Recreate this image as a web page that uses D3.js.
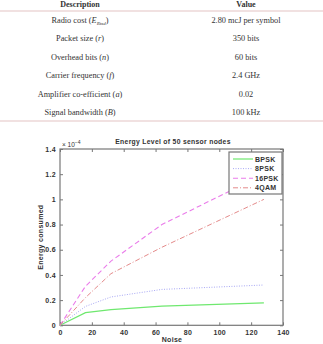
<!DOCTYPE html>
<html>
<head>
<meta charset="utf-8">
<script src="https://cdn.jsdelivr.net/npm/d3@7"></script>
<style>
  body { margin: 0; background: #fff; }
  svg { display: block; }
</style>
</head>
<body>
<div id="chart"></div>
<script>
// ── Table rows ───────────────────────────────────────────────
const tableHeader = ["Description", "Value"];
const tableDesc = [
    ["Radio cost (", "E", "Rtxd", ")"],
    ["Packet size (", "r", "", ")"],
    ["Overhead bits (", "n", "", ")"],
    ["Carrier frequency (", "f", "", ")"],
    ["Amplifier co-efficient (", "a", "", ")"],
    ["Signal bandwidth (", "B", "", ")"]
];
const tableValues = ["2.80 mcJ per symbol", "350 bits", "60 bits", "2.4 GHz", "0.02", "100 kHz"];

// ── Chart data (energy in units of 1e-4) ─────────────────────
const noise   = [0, 16, 32, 64, 128];
const bpsk    = [0, 0.10, 0.125, 0.152, 0.178];
const psk8    = [0, 0.15, 0.225, 0.285, 0.32];
const psk16   = [0, 0.31, 0.51, 0.80, 1.20];
const qam4    = [0, 0.22, 0.41, 0.62, 1.00];
const seriesNames = ["BPSK", "8PSK", "16PSK", "4QAM"];
const xTicks = [0, 20, 40, 60, 80, 100, 120, 140];
const yTicks = [0, 0.2, 0.4, 0.6, 0.8, 1, 1.2, 1.4];

const width = 323, height = 344;
const svg = d3.select("#chart").append("svg")
    .attr("width", width).attr("height", height);

// ── Table ────────────────────────────────────────────────────
const serif = "'Liberation Serif', 'DejaVu Serif', serif";
const colDesc = 80, colVal = 246;
const rowY = d3.scaleLinear().domain([0, 5]).range([23, 115]);

tableHeader.forEach((h, i) => {
    svg.append("text").attr("x", i ? colVal : colDesc).attr("y", 7)
        .attr("text-anchor", "middle").style("font-family", serif).style("font-size", "8px")
        .style("font-weight", "bold").style("fill", "#333").text(h);
});

svg.append("line").attr("x1", 0).attr("x2", width).attr("y1", 11).attr("y2", 11)
    .style("stroke", "#e3c3c3").style("stroke-width", 1);
svg.append("line").attr("x1", 0).attr("x2", width).attr("y1", 121).attr("y2", 121)
    .style("stroke", "#e3c3c3").style("stroke-width", 1);

tableDesc.forEach((d, i) => {
    const t = svg.append("text").attr("x", colDesc).attr("y", rowY(i))
        .attr("text-anchor", "middle").style("font-family", serif).style("font-size", "8.3px")
        .style("fill", "#333");
    t.append("tspan").text(d[0]);
    t.append("tspan").style("font-style", "italic").text(d[1]);
    if (d[2]) t.append("tspan").attr("dy", 1.5).style("font-size", "5px").style("font-style", "italic").text(d[2]);
    t.append("tspan").attr("dy", d[2] ? -1.5 : 0).text(d[3]);
    svg.append("text").attr("x", colVal).attr("y", rowY(i))
        .attr("text-anchor", "middle").style("font-family", serif).style("font-size", "8.3px")
        .style("fill", "#333").text(tableValues[i]);
});

// ── Chart ────────────────────────────────────────────────────
const sans = "'Liberation Sans', Arial, sans-serif";
const margin = { left: 60, top: 149 };
const innerW = 283 - margin.left;
const innerH = 325.3 - margin.top;

const g = svg.append("g").attr("transform", `translate(${margin.left},${margin.top})`);

const x = d3.scaleLinear().domain([0, 140]).range([0, innerW]);
const y = d3.scaleLinear().domain([0, 1.4]).range([innerH, 0]);

const axisColor = "#777";
const styleAxis = sel => {
    sel.select(".domain").remove();
    sel.selectAll("line").style("stroke", axisColor);
    sel.selectAll("text").style("font-family", sans).style("font-size", "7px")
        .style("font-weight", "bold").style("letter-spacing", "0.3px").style("fill", "#333");
};

g.append("g").attr("transform", `translate(0,${innerH})`)
    .call(d3.axisBottom(x).tickValues(xTicks).tickSize(-3).tickPadding(5).tickFormat(d3.format("d")))
    .call(styleAxis);
g.append("g")
    .call(d3.axisTop(x).tickValues(xTicks).tickSize(-3).tickFormat(""))
    .call(styleAxis);
g.append("g")
    .call(d3.axisLeft(y).tickValues(yTicks).tickSize(-3).tickPadding(4).tickFormat(d3.format("~g")))
    .call(styleAxis);
g.append("g").attr("transform", `translate(${innerW},0)`)
    .call(d3.axisRight(y).tickValues(yTicks).tickSize(-3).tickFormat(""))
    .call(styleAxis);

g.append("rect").attr("width", innerW).attr("height", innerH)
    .style("fill", "none").style("stroke", axisColor).style("stroke-width", 1.2);

const series = [
    { name: seriesNames[0], values: bpsk,  color: "#6fe86f", dash: null,      w: 1.2 },
    { name: seriesNames[1], values: psk8,  color: "#a9a9f5", dash: "1,1.5",   w: 1 },
    { name: seriesNames[2], values: psk16, color: "#ea7cea", dash: "5,3",     w: 1.1 },
    { name: seriesNames[3], values: qam4,  color: "#e48a8a", dash: "5,2,1,2", w: 1 }
];

const line = d3.line().x(d => x(d[0])).y(d => y(d[1]));

series.forEach(s => {
    g.append("path")
        .datum(noise.map((n, i) => [n, s.values[i]]))
        .attr("d", line)
        .style("fill", "none").style("stroke", s.color)
        .style("stroke-width", s.w)
        .style("stroke-dasharray", s.dash);
});

// Title, multiplier, axis labels
svg.append("text").attr("x", 173).attr("y", 144).attr("text-anchor", "middle")
    .style("font-family", sans).style("font-size", "6.8px").style("font-weight", "bold")
    .style("letter-spacing", "0.3px").style("fill", "#333").text("Energy Level of 50 sensor nodes");

const mult = svg.append("text").attr("x", 62).attr("y", 147)
    .style("font-family", sans).style("font-size", "6.5px").style("fill", "#333");
mult.append("tspan").text("× 10");
mult.append("tspan").attr("dy", -3).style("font-size", "5px").text("−4");

svg.append("text").attr("x", 172).attr("y", 342).attr("text-anchor", "middle")
    .style("font-family", sans).style("font-size", "7px").style("font-weight", "bold")
    .style("letter-spacing", "0.3px").style("fill", "#333").text("Noise");

svg.append("text").attr("transform", "rotate(-90)")
    .attr("x", -(margin.top + innerH / 2)).attr("y", 43).attr("text-anchor", "middle")
    .style("font-family", sans).style("font-size", "7px").style("font-weight", "bold")
    .style("letter-spacing", "0.3px").style("fill", "#333").text("Energy consumed");

// Legend
const legend = svg.append("g").attr("transform", "translate(229,152)");
legend.append("rect").attr("width", 53).attr("height", 42)
    .style("fill", "#fff").style("stroke", axisColor).style("stroke-width", 1.2);
series.forEach((s, i) => {
    const row = legend.append("g").attr("transform", `translate(0,${7 + i * 9.6})`);
    row.append("line").attr("x1", 4).attr("x2", 24)
        .style("stroke", s.color).style("stroke-width", s.w).style("stroke-dasharray", s.dash);
    row.append("text").attr("x", 26).attr("y", 2.5)
        .style("font-family", sans).style("font-size", "7px").style("font-weight", "bold")
        .style("letter-spacing", "0.3px").style("fill", "#333").text(s.name);
});
</script>
</body>
</html>
